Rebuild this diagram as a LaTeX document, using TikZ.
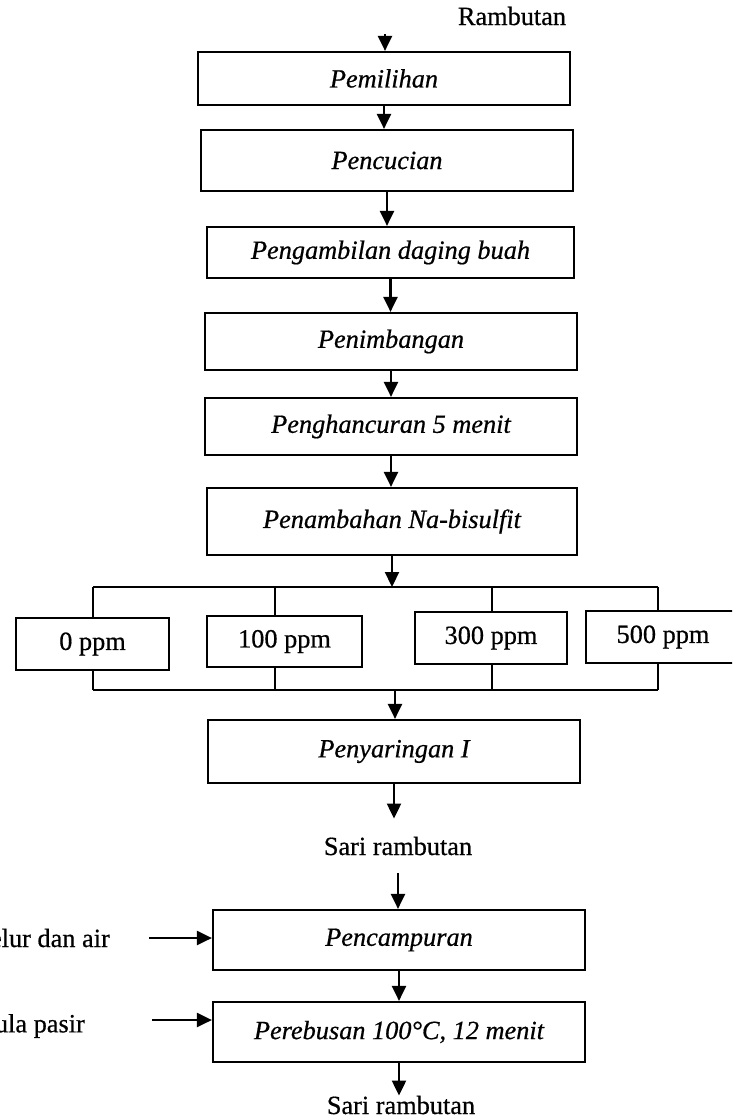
\documentclass[tikz,border=0pt]{standalone}
\usepackage{fontspec}
\setmainfont{Liberation Serif}[FakeBold=0.6]
\newfontfamily\scanfont{Liberation Serif}[FakeBold=0.6]
\usetikzlibrary{arrows.meta,calc}
\begin{document}
\begin{tikzpicture}[x=1pt,y=-1pt,
  txt/.style={font=\scanfont\fontsize{26.3}{31}\selectfont},
  box/.style={draw, line width=2.2pt, inner sep=0pt, txt, font=\scanfont\fontsize{26.3}{31}\selectfont\itshape},
  pbox/.style={draw, line width=2.2pt, inner sep=0pt, txt},
  lbl/.style={inner sep=0pt, txt},
  ln/.style={line width=2.2pt},
  arr/.style={line width=2.2pt, -{Triangle[length=15pt,width=14pt]}}]
\useasboundingbox (0,0) rectangle (732,1119);
\clip (0,0) rectangle (732,1119);

% top label
\node[lbl, anchor=base] (ramb) at (512,25) {Rambutan};
\coordinate (top) at (385,34);

% process boxes
\node[box, minimum width=372pt, minimum height=53pt] (b1) at (384,78.5) {Pemilihan};
\node[box, minimum width=372pt, minimum height=61pt] (b2) at (387,160.5) {Pencucian};
\node[box, minimum width=367pt, minimum height=51pt] (b3) at (390.5,252.5) {Pengambilan daging buah};
\node[box, minimum width=372pt, minimum height=57pt] (b4) at (391,341.5) {Penimbangan};
\node[box, minimum width=372pt, minimum height=57pt] (b5) at (391,426.5) {Penghancuran 5 menit};
\node[box, minimum width=370pt, minimum height=67pt] (b6) at (392,521.5) {Penambahan Na-bisulfit};

% ppm boxes
\node[pbox, minimum width=153pt, minimum height=52pt] (p0) at (92.5,644) {0 ppm};
\node[pbox, minimum width=155pt, minimum height=51pt] (p1) at (284.5,641.5) {100 ppm};
\node[pbox, minimum width=152pt, minimum height=52pt] (p2) at (491,638) {300 ppm};
\node[pbox, minimum width=154pt, minimum height=52pt] (p3) at (663,637) {500 ppm};

\node[box, minimum width=372pt, minimum height=63pt] (b7) at (394,751.5) {Penyaringan I};
\node[lbl, anchor=base, inner ysep=18pt] (s1) at (398,855) {Sari rambutan};
\node[box, minimum width=372pt, minimum height=60pt] (b8) at (399,940) {Pencampuran};
\node[box, minimum width=372pt, minimum height=60pt] (b9) at (399,1032) {Perebusan 100°C, 12 menit};
\node[lbl, anchor=base] (s2) at (401,1114) {Sari rambutan};

% side inputs
\node[lbl, anchor=east] (in1) at (110,938) {elur dan air};
\node[lbl, anchor=east] (in2) at (85,1026) {ula pasir};
\coordinate (c1) at ([xshift=39pt]in1.east);
\coordinate (c2) at ([xshift=67pt,yshift=6pt]in2.east);

% branch coordinates
\coordinate (d0) at (93,587);
\coordinate (d1) at (275,587);
\coordinate (d2) at (492,587);
\coordinate (d3) at (658,587);
\coordinate (e0) at (93,690);
\coordinate (e1) at (275,690);
\coordinate (e2) at (492,690);
\coordinate (e3) at (658,690);
\coordinate (ej) at (395,690);

% connectors
\draw[arr] (top) -- (top |- b1.north);
\draw[arr] (b1.south) -- (b1.south |- b2.north);
\draw[arr] (b2.south) -- (b2.south |- b3.north);
\draw[arr] (b3.south) -- (b3.south |- b4.north);
\draw[arr] (b4.south) -- (b4.south |- b5.north);
\draw[arr] (b5.south) -- (b5.south |- b6.north);
\draw[arr] (b6.south) -- (b6.south |- d0);

\draw[ln] (d0) -- (d3);
\draw[ln] (d0) -- (d0 |- p0.north);
\draw[ln] (d1) -- (d1 |- p1.north);
\draw[ln] (d2) -- (d2 |- p2.north);
\draw[ln] (d3) -- (d3 |- p3.north);

\draw[ln] (e0 |- p0.south) -- (e0);
\draw[ln] (e1 |- p1.south) -- (e1);
\draw[ln] (e2 |- p2.south) -- (e2);
\draw[ln] (e3 |- p3.south) -- (e3);
\draw[ln] (e0) -- (e3);
\draw[arr] (ej) -- (ej |- b7.north);

\draw[arr] (b7.south) -- (b7.south |- s1.north);
\draw[arr] (s1.south) -- (s1.south |- b8.north);
\draw[arr] (b8.south) -- (b8.south |- b9.north);
\draw[arr] (b9.south) -- (b9.south |- s2.north);

\draw[arr] (c1) -- (c1 -| b8.west);
\draw[arr] (c2) -- (c2 -| b9.west);
\end{tikzpicture}
\end{document}
